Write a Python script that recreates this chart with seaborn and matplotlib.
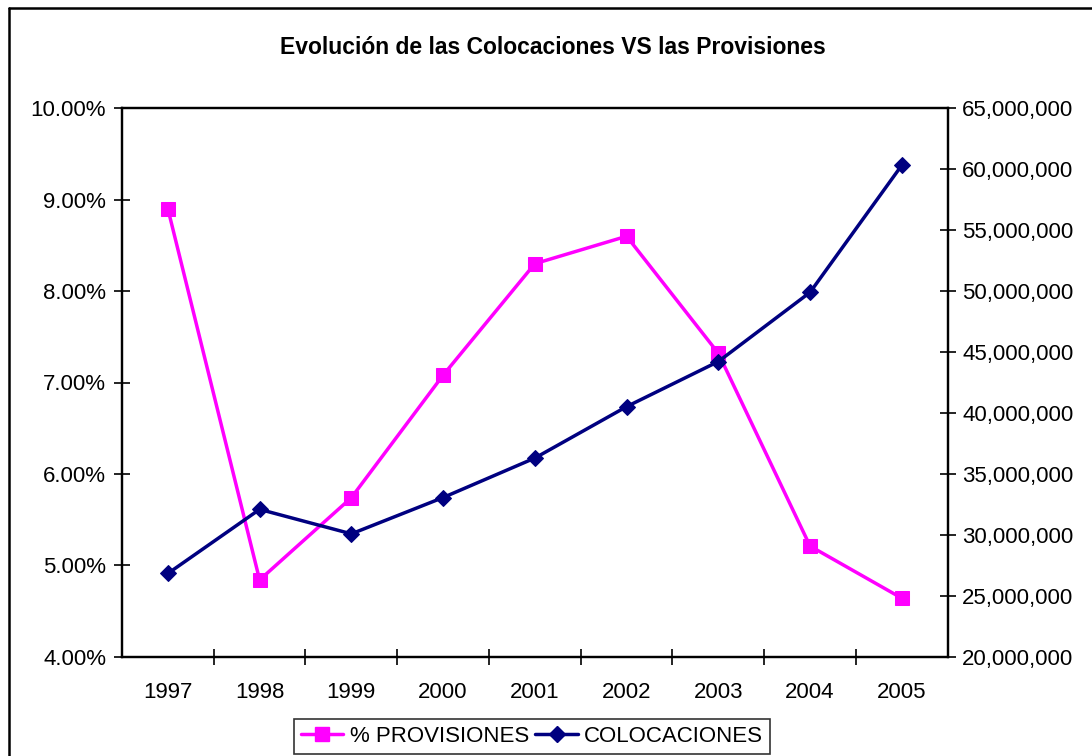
import matplotlib
matplotlib.use("Agg")
import matplotlib.pyplot as plt
import matplotlib.ticker as mticker
from matplotlib.lines import Line2D
import seaborn as sns

# ---- data ----
years = ["1997", "1998", "1999", "2000", "2001", "2002", "2003", "2004", "2005"]
provisiones_pct = [8.90, 4.84, 5.74, 7.08, 8.30, 8.60, 7.32, 5.21, 4.64]
colocaciones = [26830000, 32090000, 30080000, 33060000, 36300000,
                40520000, 44220000, 49900000, 60330000]
left_ticks = [4, 5, 6, 7, 8, 9, 10]
right_ticks = [20e6, 25e6, 30e6, 35e6, 40e6, 45e6, 50e6, 55e6, 60e6, 65e6]
title = "Evolución de las Colocaciones VS las Provisiones"
label_prov = "% PROVISIONES"
label_col = "COLOCACIONES"

sns.set_style("white")
plt.rcParams["font.family"] = ["Liberation Sans", "DejaVu Sans"]
plt.rcParams["text.color"] = "black"

MAGENTA = "#FF00FF"
NAVY = "#000080"
FS = 16
LW = 2.5

fig = plt.figure(figsize=(10.92, 7.56), dpi=100)
ax = fig.add_axes([122 / 1092, 1 - 656.7 / 756, (947.7 - 122) / 1092, (656.7 - 108.3) / 756])
ax2 = ax.twinx()

sns.lineplot(x=years, y=provisiones_pct, ax=ax, color=MAGENTA, marker="s",
             markersize=10.5, markeredgecolor=MAGENTA, linewidth=LW,
             label=label_prov, sort=False)
sns.lineplot(x=years, y=colocaciones, ax=ax2, color=NAVY, marker="D",
             markersize=8.3, markeredgecolor=NAVY, linewidth=LW,
             label=label_col, sort=False)

for a in (ax, ax2):
    lg = a.get_legend()
    if lg is not None:
        lg.remove()
    a.set_xlabel("")
    a.set_ylabel("")
    a.grid(False)
    for s in a.spines.values():
        s.set_color("black")
        s.set_linewidth(1.6)

ax.set_xlim(-0.5, len(years) - 0.5)
ax.set_ylim(left_ticks[0], left_ticks[-1])
ax.set_yticks(left_ticks)
ax.yaxis.set_major_formatter(mticker.FuncFormatter(lambda v, p: f"{v:.2f}%"))
ax2.set_ylim(right_ticks[0], right_ticks[-1])
ax2.set_yticks(right_ticks)
ax2.yaxis.set_major_formatter(mticker.FuncFormatter(lambda v, p: f"{v:,.0f}"))

# x ticks: labels at categories, tick marks between categories
ax.set_xticks(range(len(years)))
ax.set_xticklabels(years)
ax.set_xticks([i + 0.5 for i in range(len(years) - 1)], minor=True)
ax.tick_params(axis="x", which="major", length=0, pad=18, labelsize=FS, colors="black")
ax.tick_params(axis="x", which="minor", length=11, width=1.2, direction="inout",
               colors="black", bottom=True)
ax.tick_params(axis="y", which="major", length=11, width=1.2, direction="inout",
               pad=6, labelsize=FS, colors="black", left=True)
ax2.tick_params(axis="y", which="major", length=11, width=1.2, direction="inout",
                pad=5, labelsize=FS, colors="black", right=True)

fig.text(553 / 1092, 1 - 47 / 756, title, ha="center", va="center",
         fontsize=16.5, fontweight="bold", color="black")

h1 = Line2D([], [], color=MAGENTA, marker="s", markersize=10.5, linewidth=LW)
h2 = Line2D([], [], color=NAVY, marker="D", markersize=8.3, linewidth=LW)
leg = fig.legend([h1, h2], [label_prov, label_col], loc="center",
                 bbox_to_anchor=(532 / 1092, 1 - 736.5 / 756), ncol=2,
                 fontsize=FS, frameon=True, fancybox=False, shadow=False,
                 handlelength=1.9, handletextpad=0.3, columnspacing=0.3,
                 borderpad=0.3, borderaxespad=0, numpoints=1)
leg.get_frame().set_edgecolor("black")
leg.get_frame().set_linewidth(1.2)
for t in leg.get_texts():
    t.set_color("black")

# outer chart border (left and top visible)
fig.add_artist(Line2D([9 / 1092, 9 / 1092], [0, 1 - 8 / 756], color="black",
                      linewidth=1.8, transform=fig.transFigure))
fig.add_artist(Line2D([9 / 1092, 1], [1 - 8 / 756, 1 - 8 / 756], color="black",
                      linewidth=1.8, transform=fig.transFigure))

fig.savefig("out.png", dpi=100)
